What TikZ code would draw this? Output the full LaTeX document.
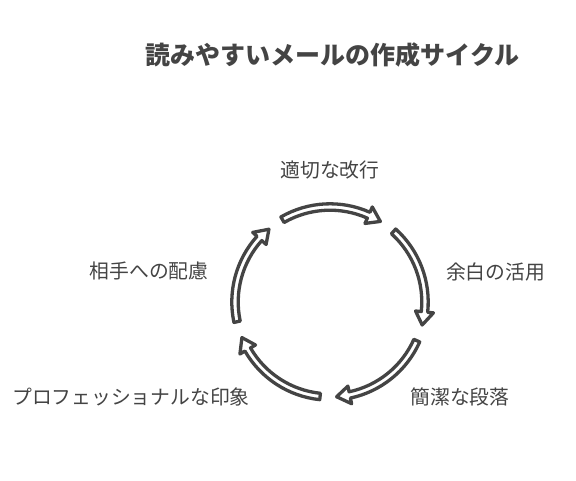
\documentclass[tikz,border=0pt]{standalone}
\usepackage{fontspec}
\setmainfont{Noto Sans CJK JP}
\usetikzlibrary{calc}
\definecolor{ink}{HTML}{444444}
\newcommand{\cycarrow}[2]{%
  \pgfmathsetmacro\cyHB{#2+8}%
  \draw[cyarrow] ([shift={(#1:98.2)}]c) arc[start angle=#1, end angle=\cyHB, radius=98.2]
    -- ([shift={(\cyHB:104)}]c) -- ([shift={(#2:95)}]c)
    -- ([shift={(\cyHB:86)}]c) -- ([shift={(\cyHB:91.8)}]c)
    arc[start angle=\cyHB, end angle=#1, radius=91.8] -- cycle;
}
\begin{document}
\begin{tikzpicture}[x=1pt,y=1pt,
  cyarrow/.style={draw=ink, fill=white, line width=3.3pt, line join=round},
  lbl/.style={text=ink, font=\fontsize{19.8}{22}\selectfont, inner sep=0pt},
  ttl/.style={text=ink, font=\fontsize{25}{28}\selectfont\bfseries, inner sep=0pt}]
\useasboundingbox (0,0) rectangle (576,480);
\fill[white] (0,0) rectangle (576,480);
\coordinate (c) at (330,178);
\node[ttl] (title) at (332.5,425) {読みやすいメールの作成サイクル};
\cycarrow{120}{58}
\cycarrow{48}{-14}
\cycarrow{-24}{-86}
\cycarrow{-96}{-158}
\cycarrow{-168}{-230}
\node[lbl] (l1) at (330,310) {適切な改行};
\node[lbl] (l2) at (495.5,208) {余白の活用};
\node[lbl] (l3) at (460,83) {簡潔な段落};
\node[lbl] (l4) at (131,83) {プロフェッショナルな印象};
\node[lbl] (l5) at (149,209) {相手への配慮};
\end{tikzpicture}
\end{document}
